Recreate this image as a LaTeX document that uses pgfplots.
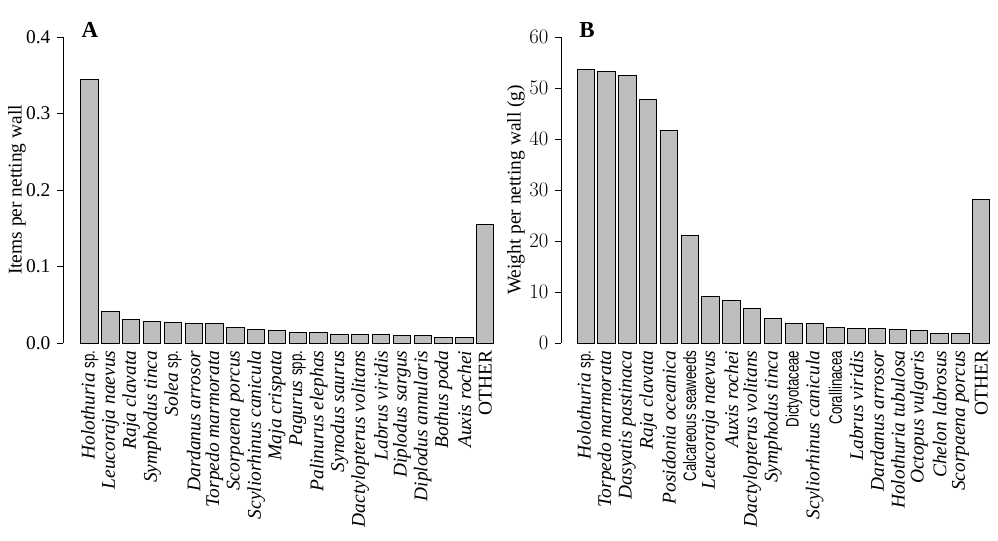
\documentclass[border=0pt]{standalone}
\usepackage{pgfplots}
\pgfplotsset{compat=1.18}
\usepackage{fontspec}
\setmainfont{Liberation Serif}
\setsansfont{Liberation Sans}
\definecolor{bargray}{RGB}{190,190,190}
\newcommand{\sps}[1]{\scalebox{0.74}[1]{\fontsize{18}{20}\selectfont\sffamily\upshape #1}}
\pgfplotsset{
  panel/.style={
    scale only axis, height=306bp, ymin=0, clip=false,
    axis lines*=left,
    x axis line style={draw=none},
    xtick=data, xtick style={draw=none},
    tick align=outside, major tick length=6bp,
    ytick style={line width=0.8bp, black},
    y axis line style={line width=0.8bp},
    xticklabel style={rotate=90, anchor=east, font=\fontsize{19.5}{22}\selectfont\itshape, inner sep=1.5bp},
    yticklabel style={font=\fontsize{19.5}{22}\selectfont},
    ylabel style={anchor=center, font=\fontsize{19.5}{22}\selectfont},
    ybar, bar width=0.8333,
  },
  barstyle/.style={fill=bargray, draw=black, line width=1bp},
}
\begin{document}
\fontsize{19.5}{22}\selectfont
\begin{tikzpicture}
\useasboundingbox (0bp,0bp) rectangle (998bp,541bp);
\begin{axis}[panel,
  at={(63bp,198bp)}, anchor=south west,
  width=434.7bp, xmin=-1.28, xmax=19.6,
  ymax=0.4, ytick={0,0.1,0.2,0.3,0.4}, yticklabels={0.0,0.1,0.2,0.3,0.4},
  ylabel={Items per netting wall}, ylabel style={at={(axis description cs:-0.106,0.5)}},
  xticklabels={{Holothuria \sps{sp.}},Leucoraja naevus,Raja clavata,Symphodus tinca,{Solea \sps{sp.}},Dardanus arrosor,Torpedo marmorata,Scorpaena porcus,Scyliorhinus canicula,Maja crispata,{Pagurus \sps{spp.}},Palinurus elephas,Synodus saurus,Dactylopterus volitans,Labrus viridis,Diplodus sargus,Diplodus annularis,Bothus poda,Auxis rochei,{\upshape OTHER}},
]
\addplot[barstyle] coordinates {(0,0.344) (1,0.0415) (2,0.0306) (3,0.028) (4,0.0266) (5,0.0253) (6,0.0253) (7,0.0197) (8,0.017) (9,0.0157) (10,0.0131) (11,0.0131) (12,0.0105) (13,0.0105) (14,0.0105) (15,0.0092) (16,0.0092) (17,0.0074) (18,0.0074) (19,0.1546)};
\node[font=\fontsize{23}{23}\selectfont\bfseries, anchor=center] at (axis description cs:0.062,1.023) {A};
\end{axis}
\begin{axis}[panel,
  at={(561bp,198bp)}, anchor=south west,
  width=432.8bp, xmin=-1.186, xmax=19.6,
  ymax=60, ytick={0,10,20,30,40,50,60},
  ylabel={Weight per netting wall (g)}, ylabel style={at={(axis description cs:-0.104,0.5)}},
  xticklabels={{Holothuria \sps{sp.}},Torpedo marmorata,Dasyatis pastinaca,Raja clavata,Posidonia oceanica,{\sps{Calcareous seaweeds}},Leucoraja naevus,Auxis rochei,Dactylopterus volitans,Symphodus tinca,{\sps{Dictyotaceae}},Scyliorhinus canicula,{\sps{Corallinacea}},Labrus viridis,Dardanus arrosor,Holothuria tubulosa,Octopus vulgaris,Chelon labrosus,Scorpaena porcus,{\upshape OTHER}},
]
\addplot[barstyle] coordinates {(0,53.7) (1,53.3) (2,52.5) (3,47.8) (4,41.6) (5,21.15) (6,9.1) (7,8.25) (8,6.8) (9,4.8) (10,3.8) (11,3.8) (12,2.95) (13,2.75) (14,2.75) (15,2.55) (16,2.36) (17,1.96) (18,1.96) (19,28.2)};
\node[font=\fontsize{23}{23}\selectfont\bfseries, anchor=center] at (axis description cs:0.06,1.023) {B};
\end{axis}
\end{tikzpicture}
\end{document}
